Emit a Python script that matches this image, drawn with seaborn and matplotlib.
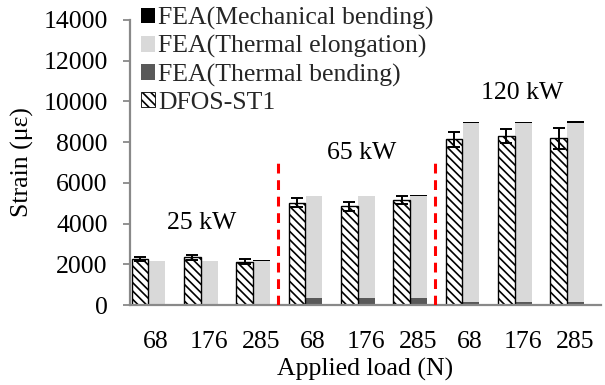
import numpy as np
import pandas as pd
import matplotlib
matplotlib.use("Agg")
import matplotlib.pyplot as plt
import seaborn as sns
from matplotlib.patches import Patch

# ---- data ----
powers = ["25 kW", "65 kW", "120 kW"]
loads = ["68", "176", "285"]
dfos_st1 = [2260, 2340, 2130, 5020, 4860, 5160, 8140, 8300, 8190]
dfos_err = [120, 140, 130, 220, 220, 200, 380, 330, 520]
fea_thermal_bending = [60, 60, 60, 330, 330, 330, 160, 160, 160]
fea_thermal_elongation = [2090, 2090, 2090, 5000, 5000, 5000, 8800, 8800, 8800]
fea_mechanical_bending = [10, 30, 50, 20, 40, 70, 30, 50, 90]
label_y = [4030, 7470, 10410]

sns.set_theme(style="white")
plt.rcParams["font.family"] = ["Liberation Serif", "DejaVu Serif"]
plt.rcParams["hatch.linewidth"] = 1.2
FS = 18.5
HATCH = "\\\\\\\\"

n = len(dfos_st1)
idx = np.arange(n)
off_dfos = -0.31
off_fea = 0.015
bw = 0.32

tb = np.array(fea_thermal_bending, float)
te = np.array(fea_thermal_elongation, float)
mb = np.array(fea_mechanical_bending, float)

df = pd.DataFrame({
    "x_dfos": idx + off_dfos,
    "x_fea": idx + off_fea,
    "dfos": dfos_st1,
    "fea_total": tb + te + mb,
    "fea_te": tb + te,
    "fea_tb": tb,
})

fig = plt.figure(figsize=(6.05, 3.85), dpi=100)
ax = fig.add_axes([130 / 605, 80 / 385, 471 / 605, 285 / 385])

# stacked FEA bars (drawn largest first, overlaid)
sns.barplot(data=df, x="x_fea", y="fea_total", native_scale=True, width=bw,
            color="#000000", saturation=1, linewidth=0, errorbar=None, ax=ax)
sns.barplot(data=df, x="x_fea", y="fea_te", native_scale=True, width=bw,
            color="#D9D9D9", saturation=1, linewidth=0, errorbar=None, ax=ax)
sns.barplot(data=df, x="x_fea", y="fea_tb", native_scale=True, width=bw,
            color="#595959", saturation=1, linewidth=0, errorbar=None, ax=ax)
n_before = len(ax.patches)
sns.barplot(data=df, x="x_dfos", y="dfos", native_scale=True, width=bw,
            color="white", saturation=1, edgecolor="black", linewidth=1.0,
            errorbar=None, ax=ax)
for p in ax.patches[n_before:]:
    p.set_hatch(HATCH)
    p.set_edgecolor("black")

ax.errorbar(df["x_dfos"], df["dfos"], yerr=dfos_err, fmt="none",
            ecolor="black", elinewidth=1.4, capsize=4.5, capthick=1.4, zorder=5)

# separators between power levels
for k in [1, 2]:
    xs = 3 * k - 1 + 0.32
    ax.plot([xs, xs], [0, 7040], color="#FF0000", lw=2.2, ls=(0, (3.2, 2.2)),
            zorder=4)

label_x = [0.87, 3.93, 6.99]
for t, xx, yy in zip(powers, label_x, label_y):
    ax.text(xx, yy, t, ha="center", va="center", fontsize=FS, color="black")

ax.set_xlim(-0.5, n - 0.5)
ax.set_ylim(0, 14000)
ax.set_yticks(np.arange(0, 14001, 2000))
ax.set_yticklabels([str(v) for v in range(0, 14001, 2000)], fontsize=FS)
ax.set_xticks(idx)
ax.set_xticklabels(loads * len(powers), fontsize=FS)
ax.tick_params(axis="y", length=5, width=1.3, color="#898989", pad=11,
               labelcolor="black", left=True)
ax.tick_params(axis="x", length=0, pad=19, labelcolor="black")
for s in ["top", "right"]:
    ax.spines[s].set_visible(False)
for s in ["left", "bottom"]:
    ax.spines[s].set_color("#898989")
    ax.spines[s].set_linewidth(1.6)
ax.set_xlabel("Applied load (N)", fontsize=FS, color="black", labelpad=3)
ax.set_ylabel("Strain (\u03bc\u03b5)", fontsize=FS, color="black", labelpad=7)
ax.grid(False)

handles = [
    Patch(facecolor="#000000", edgecolor="none"),
    Patch(facecolor="#D9D9D9", edgecolor="none"),
    Patch(facecolor="#595959", edgecolor="none"),
    Patch(facecolor="white", edgecolor="black", hatch=HATCH, linewidth=0.6),
]
labels = ["FEA(Mechanical bending)", "FEA(Thermal elongation)",
          "FEA(Thermal bending)", "DFOS-ST1"]
fig.legend(handles, labels, loc="upper left",
           bbox_to_anchor=(141 / 605, 1 - 7 / 385),
           bbox_transform=fig.transFigure, frameon=False, fontsize=FS,
           handlelength=0.55, handleheight=0.55, handletextpad=0.12,
           labelspacing=0.2, borderpad=0, borderaxespad=0)

fig.savefig("out.png", dpi=100)
